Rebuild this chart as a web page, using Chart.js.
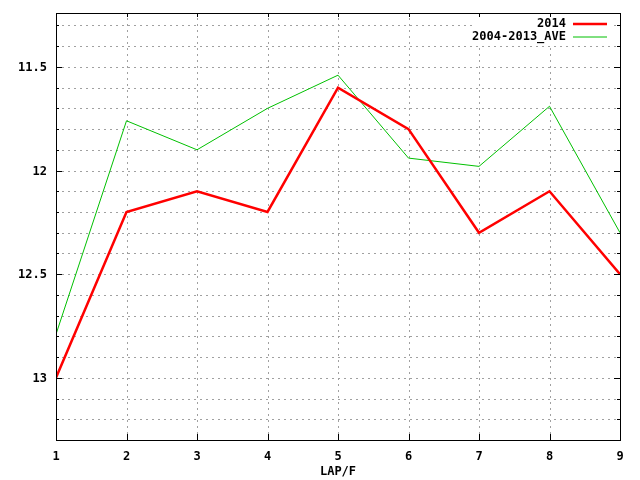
<!DOCTYPE html>
<html>
<head>
<meta charset="utf-8">
<script src="https://cdn.jsdelivr.net/npm/chart.js@4"></script>
<style>
  html, body { margin: 0; padding: 0; background: #fff; }
  #wrap { width: 640px; height: 480px; }
</style>
</head>
<body>
<div id="wrap"><canvas id="lapChart" width="640" height="480"></canvas></div>
<script>
// lap numbers and lap times (seconds per furlong, lower is faster)
const laps = [1, 2, 3, 4, 5, 6, 7, 8, 9];
const times2014 = [13.0, 12.2, 12.1, 12.2, 11.6, 11.8, 12.3, 12.1, 12.5];
const timesAve = [12.79, 11.76, 11.90, 11.70, 11.54, 11.94, 11.98, 11.69, 12.30];
const seriesNames = ["2014", "2004-2013_AVE"];
const yGrid = [11.3, 11.4, 11.5, 11.6, 11.7, 11.8, 11.9, 12.0, 12.1, 12.2, 12.3,
               12.4, 12.5, 12.6, 12.7, 12.8, 12.9, 13.0, 13.1, 13.2];
const yLabels = [11.5, 12, 12.5, 13];

const font = { family: "DejaVu Sans Mono", size: 12, weight: "bold" };

// dotted grid on whole pixels
const gridPlugin = {
  id: "dotgrid",
  beforeDatasetsDraw(chart) {
    const ctx = chart.ctx;
    const a = chart.chartArea;
    const xs = chart.scales.x, ys = chart.scales.y;
    ctx.save();
    ctx.strokeStyle = "#a0a0a0";
    ctx.lineWidth = 1;
    ctx.setLineDash([2, 4]);
    ctx.beginPath();
    yGrid.forEach(v => {
      const y = Math.round(ys.getPixelForValue(v)) + 0.5;
      ctx.moveTo(a.left, y); ctx.lineTo(a.right, y);
    });
    laps.slice(1, -1).forEach(v => {
      const x = Math.round(xs.getPixelForValue(v)) + 0.5;
      ctx.moveTo(x, a.bottom); ctx.lineTo(x, a.top);
    });
    ctx.stroke();
    ctx.restore();
  }
};

// frame, inward ticks, y labels and the key, gnuplot style
const framePlugin = {
  id: "frame",
  afterDraw(chart) {
    const ctx = chart.ctx;
    const a = chart.chartArea;
    const xs = chart.scales.x, ys = chart.scales.y;
    ctx.save();
    // key background
    ctx.fillStyle = "#fff";
    ctx.fillRect(472, a.top + 1, 140, 30);

    ctx.strokeStyle = "#000";
    ctx.lineWidth = 1;
    ctx.beginPath();
    yGrid.forEach(v => {
      const y = Math.round(ys.getPixelForValue(v)) + 0.5;
      const len = yLabels.some(l => Math.abs(l - v) < 1e-6) ? 6 : 3;
      ctx.moveTo(a.left, y); ctx.lineTo(a.left + len, y);
      ctx.moveTo(a.right, y); ctx.lineTo(a.right - len, y);
    });
    laps.forEach(v => {
      const x = Math.round(xs.getPixelForValue(v)) + 0.5;
      ctx.moveTo(x, a.bottom); ctx.lineTo(x, a.bottom - 6);
      ctx.moveTo(x, a.top); ctx.lineTo(x, a.top + 4);
    });
    ctx.stroke();
    ctx.strokeRect(Math.round(a.left) + 0.5, Math.round(a.top) + 0.5,
                   Math.round(a.right - a.left), Math.round(a.bottom - a.top));

    ctx.font = "bold 12px 'DejaVu Sans Mono'";
    ctx.fillStyle = "#000";
    ctx.textAlign = "right";
    ctx.textBaseline = "middle";
    // y tick labels
    yLabels.forEach(v => {
      ctx.fillText(String(v), a.left - 9, ys.getPixelForValue(v) + 1);
    });

    // key
    chart.data.datasets.forEach((ds, i) => {
      const y = 24 + i * 13;
      ctx.fillStyle = "#000";
      ctx.fillText(ds.label, 566, y);
      ctx.strokeStyle = ds.borderColor;
      ctx.lineWidth = ds.borderWidth;
      ctx.beginPath();
      ctx.moveTo(573, y); ctx.lineTo(607, y);
      ctx.stroke();
    });
    ctx.restore();
  }
};

new Chart(document.getElementById("lapChart").getContext("2d"), {
  type: "line",
  data: {
    datasets: [
      {
        label: seriesNames[0],
        data: laps.map((l, i) => ({ x: l, y: times2014[i] })),
        borderColor: "#ff0000",
        borderWidth: 2.5,
        pointRadius: 0,
        tension: 0
      },
      {
        label: seriesNames[1],
        data: laps.map((l, i) => ({ x: l, y: timesAve[i] })),
        borderColor: "#00c000",
        borderWidth: 1,
        pointRadius: 0,
        tension: 0
      }
    ]
  },
  plugins: [gridPlugin, framePlugin],
  options: {
    responsive: false,
    animation: false,
    layout: { padding: { top: 13, right: 20, left: 0, bottom: 0 } },
    plugins: { legend: { display: false }, tooltip: { enabled: false } },
    scales: {
      x: {
        type: "linear",
        min: 1,
        max: 9,
        afterBuildTicks: s => { s.ticks = laps.map(v => ({ value: v })); },
        afterFit: s => { s.height = 40; },
        grid: { display: false, drawTicks: false },
        border: { display: false },
        ticks: { color: "#000", font: font, padding: 10, maxRotation: 0 },
        title: { display: true, text: "LAP/F", color: "#000", font: font, padding: { top: 0, bottom: 1 } }
      },
      y: {
        type: "linear",
        reverse: true,
        min: 11.24,
        max: 13.3,
        afterBuildTicks: s => { s.ticks = yGrid.map(v => ({ value: v })); },
        afterFit: s => { s.width = 56; },
        grid: { display: false, drawTicks: false },
        border: { display: false },
        ticks: { display: false }
      }
    }
  }
});
</script>
</body>
</html>
